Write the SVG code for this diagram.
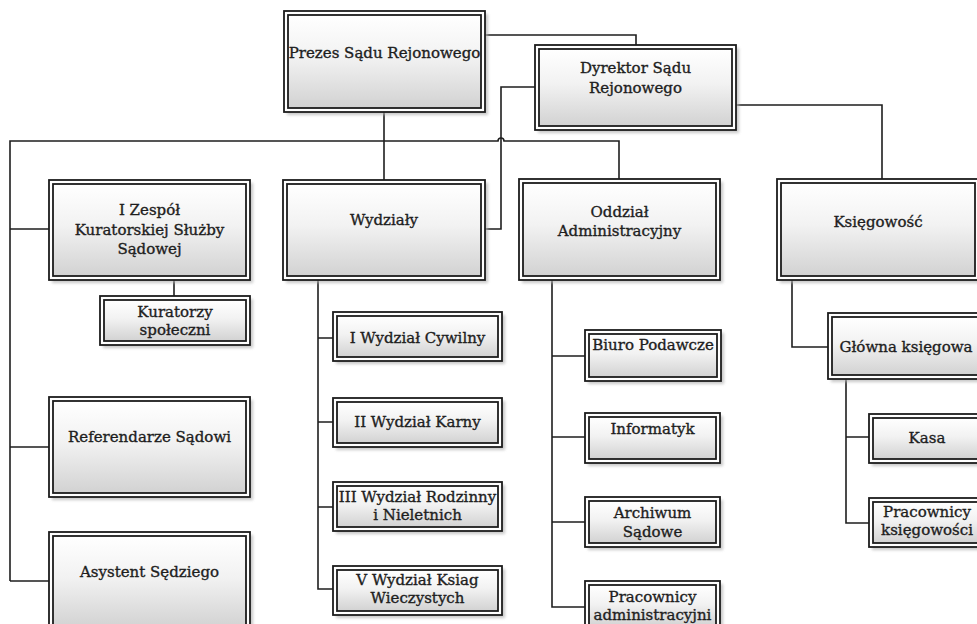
<svg xmlns="http://www.w3.org/2000/svg" width="977" height="624" viewBox="0 0 977 624">
<defs>
<linearGradient id="g" x1="0" y1="0" x2="0" y2="1">
<stop offset="0" stop-color="#ffffff"/>
<stop offset="0.45" stop-color="#f2f2f2"/>
<stop offset="1" stop-color="#d2d2d2"/>
</linearGradient>
<filter id="sh" x="-10%" y="-10%" width="130%" height="130%">
<feGaussianBlur stdDeviation="1.5"/>
</filter>
</defs>
<style>
.sh{fill:#b0b0b0;filter:url(#sh);opacity:0.7}
.o{fill:#ffffff;stroke:#1c1c1c;stroke-width:1.8}
.i{fill:url(#g);stroke:#1c1c1c;stroke-width:1.8}
.t{font-family:"DejaVu Serif","Liberation Serif",serif;font-size:15px;fill:#1e1e1e;stroke:#1e1e1e;stroke-width:0.35;text-anchor:middle}
.c{fill:none;stroke:#1e1e1e;stroke-width:1.6}
</style>
<rect width="977" height="624" fill="#ffffff"/>
<g id="connectors">
<path class="c" d="M485,35 H636 V45"/>
<path class="c" d="M384,112 V180"/>
<path class="c" d="M10,581 V141 H498 A3,3 0 0 1 504,141 H619 V179"/>
<path class="c" d="M535,87 H501 V229 H485"/>
<path class="c" d="M736,105 H882 V179"/>
<path class="c" d="M10,229 H49 M10,447 H49 M10,581 H49"/>
<path class="c" d="M174,280 V296"/>
<path class="c" d="M318,280 V589 H333 M318,338 H333 M318,422 H333 M318,507 H333"/>
<path class="c" d="M552,280 V607 H585 M552,356 H585 M552,437 H585 M552,522 H585"/>
<path class="c" d="M792,280 V347 H828"/>
<path class="c" d="M846,379 V523 H869 M846,437 H869"/>
</g>
<g id="prezes">
<rect class="sh" x="287" y="14" width="201" height="101"/>
<rect class="o" x="284" y="11" width="201" height="101"/>
<rect class="i" x="288" y="15" width="193" height="93"/>
<text class="t" x="384.5" y="58">Prezes Sądu Rejonowego</text>
</g>
<g id="dyrektor">
<rect class="sh" x="538" y="48" width="201" height="85"/>
<rect class="o" x="535" y="45" width="201" height="85"/>
<rect class="i" x="539" y="49" width="193" height="77"/>
<text class="t" x="635.5" y="73">Dyrektor Sądu</text>
<text class="t" x="635.5" y="93">Rejonowego</text>
</g>
<g id="zespol">
<rect class="sh" x="52" y="183" width="201" height="100"/>
<rect class="o" x="49" y="180" width="201" height="100"/>
<rect class="i" x="53" y="184" width="193" height="92"/>
<text class="t" x="149.5" y="215">I Zespół</text>
<text class="t" x="149.5" y="235">Kuratorskiej Służby</text>
<text class="t" x="149.5" y="254">Sądowej</text>
</g>
<g id="wydzialy">
<rect class="sh" x="286" y="183" width="202" height="100"/>
<rect class="o" x="283" y="180" width="202" height="100"/>
<rect class="i" x="287" y="184" width="194" height="92"/>
<text class="t" x="384" y="225">Wydziały</text>
</g>
<g id="oddzial">
<rect class="sh" x="522" y="182" width="201" height="101"/>
<rect class="o" x="519" y="179" width="201" height="101"/>
<rect class="i" x="523" y="183" width="193" height="93"/>
<text class="t" x="619.5" y="217">Oddział</text>
<text class="t" x="619.5" y="236">Administracyjny</text>
</g>
<g id="ksiegowosc">
<rect class="sh" x="780" y="182" width="202" height="101"/>
<rect class="o" x="777" y="179" width="202" height="101"/>
<rect class="i" x="781" y="183" width="194" height="93"/>
<text class="t" x="878" y="227">Księgowość</text>
</g>
<g id="kuratorzy">
<rect class="sh" x="103" y="299" width="150" height="49"/>
<rect class="o" x="100" y="296" width="150" height="49"/>
<rect class="i" x="104" y="300" width="142" height="41"/>
<text class="t" x="175" y="317">Kuratorzy</text>
<text class="t" x="175" y="335">społeczni</text>
</g>
<g id="cywilny">
<rect class="sh" x="336" y="315" width="169" height="49"/>
<rect class="o" x="333" y="312" width="169" height="49"/>
<rect class="i" x="337" y="316" width="161" height="41"/>
<text class="t" x="417.5" y="343">I Wydział Cywilny</text>
</g>
<g id="karny">
<rect class="sh" x="336" y="401" width="169" height="49"/>
<rect class="o" x="333" y="398" width="169" height="49"/>
<rect class="i" x="337" y="402" width="161" height="41"/>
<text class="t" x="417.5" y="427">II Wydział Karny</text>
</g>
<g id="rodzinny">
<rect class="sh" x="336" y="485" width="169" height="49"/>
<rect class="o" x="333" y="482" width="169" height="49"/>
<rect class="i" x="337" y="486" width="161" height="41"/>
<text class="t" x="417.5" y="502">III Wydział Rodzinny</text>
<text class="t" x="417.5" y="520">i Nieletnich</text>
</g>
<g id="ksiag">
<rect class="sh" x="336" y="569" width="169" height="49"/>
<rect class="o" x="333" y="566" width="169" height="49"/>
<rect class="i" x="337" y="570" width="161" height="41"/>
<text class="t" x="417.5" y="585">V Wydział Ksiag</text>
<text class="t" x="417.5" y="603">Wieczystych</text>
</g>
<g id="referendarze">
<rect class="sh" x="52" y="400" width="201" height="100"/>
<rect class="o" x="49" y="397" width="201" height="100"/>
<rect class="i" x="53" y="401" width="193" height="92"/>
<text class="t" x="149.5" y="442">Referendarze Sądowi</text>
</g>
<g id="asystent">
<rect class="sh" x="52" y="535" width="201" height="100"/>
<rect class="o" x="49" y="532" width="201" height="100"/>
<rect class="i" x="53" y="536" width="193" height="92"/>
<text class="t" x="149.5" y="577">Asystent Sędziego</text>
</g>
<g id="biuro">
<rect class="sh" x="588" y="333" width="136" height="51"/>
<rect class="o" x="585" y="330" width="136" height="51"/>
<rect class="i" x="589" y="334" width="128" height="43"/>
<text class="t" x="653" y="350">Biuro Podawcze</text>
</g>
<g id="informatyk">
<rect class="sh" x="588" y="416" width="135" height="50"/>
<rect class="o" x="585" y="413" width="135" height="50"/>
<rect class="i" x="589" y="417" width="127" height="42"/>
<text class="t" x="652.5" y="434">Informatyk</text>
</g>
<g id="archiwum">
<rect class="sh" x="588" y="500" width="135" height="50"/>
<rect class="o" x="585" y="497" width="135" height="50"/>
<rect class="i" x="589" y="501" width="127" height="42"/>
<text class="t" x="652.5" y="518">Archiwum</text>
<text class="t" x="652.5" y="537">Sądowe</text>
</g>
<g id="pracownicy-admin">
<rect class="sh" x="588" y="584" width="135" height="50"/>
<rect class="o" x="585" y="581" width="135" height="50"/>
<rect class="i" x="589" y="585" width="127" height="42"/>
<text class="t" x="652.5" y="602">Pracownicy</text>
<text class="t" x="652.5" y="620">administracyjni</text>
</g>
<g id="glowna">
<rect class="sh" x="831" y="316" width="156" height="66"/>
<rect class="o" x="828" y="313" width="156" height="66"/>
<rect class="i" x="832" y="317" width="148" height="58"/>
<text class="t" x="906" y="352">Główna księgowa</text>
</g>
<g id="kasa">
<rect class="sh" x="872" y="417" width="116" height="49"/>
<rect class="o" x="869" y="414" width="116" height="49"/>
<rect class="i" x="873" y="418" width="108" height="41"/>
<text class="t" x="927" y="443">Kasa</text>
</g>
<g id="pracownicy-ksiegowosci">
<rect class="sh" x="872" y="501" width="116" height="49"/>
<rect class="o" x="869" y="498" width="116" height="49"/>
<rect class="i" x="873" y="502" width="108" height="41"/>
<text class="t" x="927" y="517">Pracownicy</text>
<text class="t" x="927" y="535">księgowości</text>
</g>
</svg>
